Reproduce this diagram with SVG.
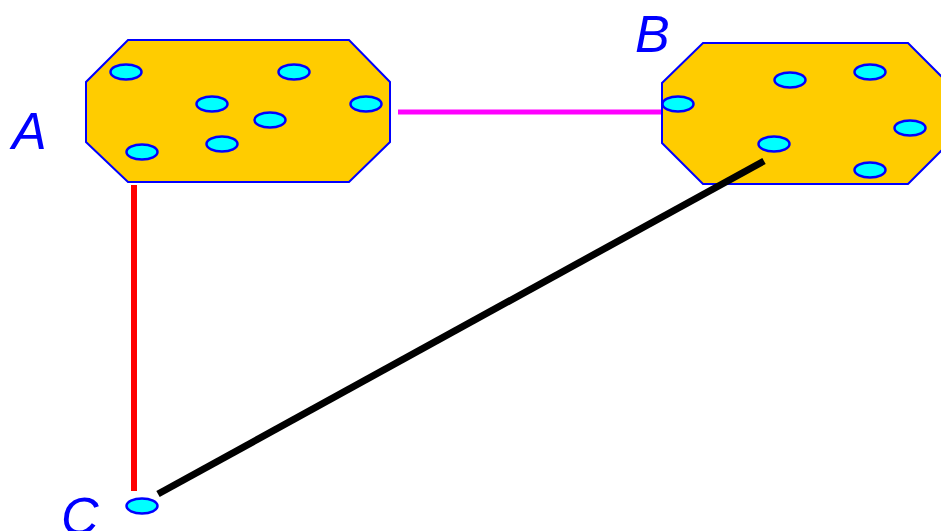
<svg xmlns="http://www.w3.org/2000/svg" width="941" height="531" viewBox="0 0 941 531">
<style>
.blob{fill:#ffcc00;stroke:#0000ff;stroke-width:2;stroke-linejoin:miter}
.port{fill:#00ffff;stroke:#0000ff;stroke-width:2.5}
.lbl{font-family:"Liberation Sans",Arial,sans-serif;font-style:italic;font-size:52px;fill:#0000ff}
</style>
<rect width="941" height="531" fill="#ffffff"/>
<g id="A">
<polygon class="blob" points="128,40 349,40 390,82 390,142 349,182 128,182 86,142 86,82"/>
<ellipse class="port" cx="126" cy="72" rx="15.5" ry="7.5"/>
<ellipse class="port" cx="294" cy="72" rx="15.5" ry="7.5"/>
<ellipse class="port" cx="212" cy="104" rx="15.5" ry="7.5"/>
<ellipse class="port" cx="366" cy="104" rx="15.5" ry="7.5"/>
<ellipse class="port" cx="270" cy="120" rx="15.5" ry="7.5"/>
<ellipse class="port" cx="222" cy="144" rx="15.5" ry="7.5"/>
<ellipse class="port" cx="142" cy="152" rx="15.5" ry="7.5"/>
<text class="lbl" x="12" y="149">A</text>
</g>
<g id="B">
<polygon class="blob" points="703,43 908,43 949,84 949,143 908,184 703,184 662,143 662,83"/>
<ellipse class="port" cx="790" cy="80" rx="15.5" ry="7.5"/>
<ellipse class="port" cx="870" cy="72" rx="15.5" ry="7.5"/>
<ellipse class="port" cx="678" cy="104" rx="15.5" ry="7.5"/>
<ellipse class="port" cx="910" cy="128" rx="15.5" ry="7.5"/>
<ellipse class="port" cx="774" cy="144" rx="15.5" ry="7.5"/>
<ellipse class="port" cx="870" cy="170" rx="15.5" ry="7.5"/>
<text class="lbl" x="635" y="52">B</text>
</g>
<g id="C">
<ellipse class="port" cx="142" cy="506" rx="15.5" ry="7.5"/>
<text class="lbl" x="61" y="534">C</text>
</g>
<g id="connectors">
<line x1="134" y1="185" x2="134" y2="491" stroke="#ff0000" stroke-width="6"/>
<line x1="398" y1="112" x2="661" y2="112" stroke="#ff00ff" stroke-width="5"/>
<line x1="764" y1="161" x2="158" y2="494" stroke="#000000" stroke-width="7"/>
</g>
</svg>
